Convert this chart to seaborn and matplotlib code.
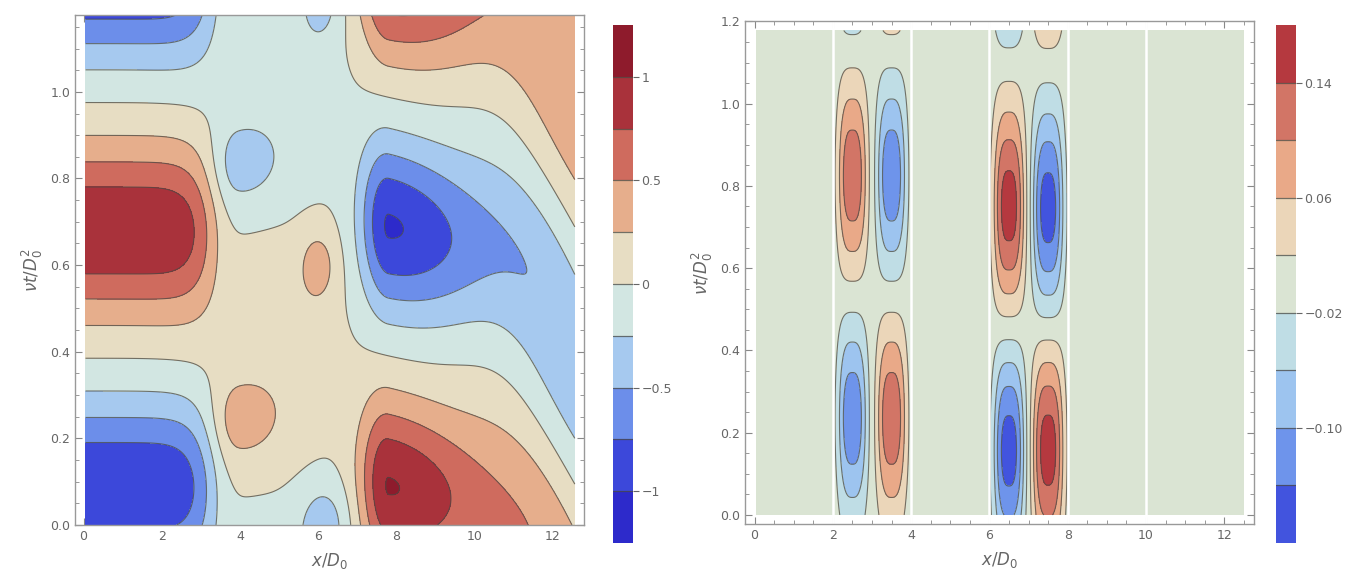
import numpy as np
import matplotlib
matplotlib.use("Agg")
import matplotlib.pyplot as plt
from matplotlib.ticker import MultipleLocator, FormatStrFormatter
import seaborn as sns

# ---- left panel: contour bands and colours ----
left_levels = [-1.25, -1.0, -0.75, -0.5, -0.25, 0.0, 0.25, 0.5, 0.75, 1.0, 1.25]
left_colors = ["#2d2acb", "#3c48da", "#6c8eea", "#a6c9ef", "#d2e6e2",
               "#e7ddc3", "#e6ae8c", "#cf6b5e", "#a9323b", "#8e1b2c"]
left_cb_ticks = [-1.0, -0.5, 0.0, 0.5, 1.0]
left_cb_labels = ["\u22121", "\u22120.5", "0", "0.5", "1"]

# left panel field blobs (centre x, centre t, amplitude, widths, tilt)
lb_x0   = [0.0, 0.0, 0.0,    5.2, 5.2, 5.2,    3.95, 3.95, 6.0, 6.15, 6.05,   7.8, 7.8, 7.8,    12.6, 12.6, 12.6]
lb_t0   = [0.09, 0.68, 1.272, 0.40, 0.98, -0.17, 0.24, 0.83, 0.60, 0.0, 1.21,  0.09, 0.69, 1.28,  -0.225, 0.365, 0.955]
lb_amp  = [-0.98, 0.98, -1.0, 0.16, -0.16, -0.16, 0.33, -0.33, 0.34, -0.38, -0.36, 1.01, -1.02, 0.97, 0.46, -0.46, 0.44]
lb_sxl  = [1.0, 1.0, 1.0,    1.8, 1.8, 1.8,    0.65, 0.65, 0.48, 0.65, 0.5,   0.74, 0.74, 0.74,  2.0, 2.0, 2.0]
lb_sxr  = [3.3, 3.3, 3.3,    1.2, 1.2, 1.2,    1.05, 1.05, 0.48, 0.65, 0.5,   2.8, 2.8, 2.8,     3.0, 3.0, 3.0]
lb_px   = [8.5, 8.5, 8.5,    2, 2, 2,          2, 2, 2, 2, 2,                 2, 2, 2,           2, 2, 2]
lb_st   = [0.195, 0.195, 0.195, 0.25, 0.22, 0.2, 0.095, 0.095, 0.085, 0.1, 0.09, 0.2, 0.2, 0.2, 0.27, 0.27, 0.27]
lb_tilt = [0, 0, 0,          0, 0, 0,          0, 0, 0, 0, 0,                 0.02, 0.02, 0.02,  0.15, 0.15, 0.15]

# ---- right panel: contour bands and colours ----
right_levels = [-0.18, -0.14, -0.10, -0.06, -0.02, 0.02, 0.06, 0.10, 0.14, 0.18]
right_colors = ["#4254de", "#6e94eb", "#9dc4ef", "#bfdde5", "#dae4d3",
                "#ebd6b9", "#e9a988", "#d27566", "#b5393f"]
right_cb_ticks = [-0.10, -0.02, 0.06, 0.14]
right_cb_labels = ["\u22120.10", "\u22120.02", "0.06", "0.14"]

rb_x0  = [2.5, 3.5, 2.5, 3.5, 2.5, 3.5,       6.5, 7.5, 6.5, 7.5, 6.5, 7.5]
rb_t0  = [0.236, 0.236, 0.825, 0.825, 1.43, 1.43, 0.158, 0.16, 0.75, 0.745, 1.44, 1.44]
rb_amp = [-0.13, 0.13, 0.13, -0.13, -0.13, 0.13, -0.16, 0.16, 0.16, -0.16, -0.16, 0.16]
rb_sx  = [0.36] * 6 + [0.38] * 6
rb_st  = [0.22] * 6 + [0.24] * 6
segment_gaps = [2, 4, 6, 8, 10]

x_end = 4 * np.pi
t_end = 1.178


def blob_field(x, t, x0, t0, amp, sxl, sxr, px, st, tilt):
    X, T = np.meshgrid(x, t)
    Z = np.zeros_like(X)
    for i in range(len(amp)):
        d = X - x0[i]
        s = np.where(d < 0, sxl[i], sxr[i])
        fx = np.exp(-(np.abs(d) / s) ** px[i])
        tt = T - t0[i] + tilt[i] * d
        Z += amp[i] * fx * np.exp(-(tt / st[i]) ** 2)
    return X, T, Z


sns.set_style("ticks")
plt.rcParams["font.family"] = ["DejaVu Sans"]
plt.rcParams["mathtext.fontset"] = "dejavusans"
plt.rcParams["contour.negative_linestyle"] = "solid"

fig = plt.figure(figsize=(13.53, 5.79), dpi=100)
ax1 = fig.add_axes([0.0554, 0.0933, 0.3762, 0.8812])
cax1 = fig.add_axes([0.4531, 0.0622, 0.0148, 0.8946])
ax2 = fig.add_axes([0.5506, 0.095, 0.3762, 0.868])
cax2 = fig.add_axes([0.9431, 0.0622, 0.0148, 0.8946])

line_col = "#4a4a44"
grey = "#666666"

# left panel
x = np.linspace(0.05, x_end, 700)
t = np.linspace(0, t_end, 500)
X, T, Z = blob_field(x, t, lb_x0, lb_t0, lb_amp, lb_sxl, lb_sxr, lb_px, lb_st, lb_tilt)
Z = np.clip(Z, -1.249, 1.249)
ax1.contourf(X, T, Z, levels=left_levels, colors=sns.color_palette(left_colors))
ax1.contour(X, T, Z, levels=left_levels[1:-1], colors=line_col, linewidths=0.8,
            alpha=0.75, linestyles="solid")
ax1.set_xlim(-0.22, 12.8)
ax1.set_ylim(0, t_end)
ax1.set_yticks([0, 0.2, 0.4, 0.6, 0.8, 1.0])

# right panel
x2 = np.linspace(0.06, 12.5, 800)
t2 = np.linspace(0, t_end, 500)
n = len(rb_amp)
X2, T2, Z2 = blob_field(x2, t2, rb_x0, rb_t0, rb_amp, rb_sx, rb_sx, [3] * n, rb_st, [0] * n)
Z2 = np.clip(Z2, -0.1799, 0.1799)
ax2.contourf(X2, T2, Z2, levels=right_levels, colors=sns.color_palette(right_colors))
ax2.contour(X2, T2, Z2, levels=right_levels[1:-1], colors=line_col, linewidths=0.8,
            alpha=0.75, linestyles="solid")
for g in segment_gaps:
    ax2.axvline(g, color="white", lw=1.8)
ax2.set_xlim(-0.245, 12.76)
ax2.set_ylim(-0.022, 1.2)
ax2.set_yticks([0, 0.2, 0.4, 0.6, 0.8, 1.0, 1.2])

for ax in (ax1, ax2):
    ax.set_facecolor("white")
    ax.xaxis.set_major_locator(MultipleLocator(2))
    ax.xaxis.set_minor_locator(MultipleLocator(0.5))
    ax.yaxis.set_minor_locator(MultipleLocator(0.05))
    ax.yaxis.set_major_formatter(FormatStrFormatter("%.1f"))
    for sp in ax.spines.values():
        sp.set_color("#999999")
        sp.set_linewidth(1.0)
    ax.tick_params(which="both", direction="in", top=True, right=True,
                   color="#888888", labelcolor=grey, labelsize=9)
    ax.tick_params(which="major", length=5)
    ax.tick_params(which="minor", length=3)
    ax.set_xlabel(r"$x/D_0$", color=grey, fontsize=12, labelpad=6)
    ax.set_ylabel(r"$\nu t/D_0^2$", color=grey, fontsize=12, labelpad=4)

# colour bars drawn as discrete bands
for cax, levels, colors, ticks, labels in (
        (cax1, left_levels, left_colors, left_cb_ticks, left_cb_labels),
        (cax2, right_levels, right_colors, right_cb_ticks, right_cb_labels)):
    for lo, hi, c in zip(levels[:-1], levels[1:], colors):
        cax.axhspan(lo, hi, color=c, lw=0)
    for lv in levels[1:-1]:
        cax.axhline(lv, color=line_col, lw=0.9, alpha=0.75)
    cax.set_ylim(levels[0], levels[-1])
    cax.set_xlim(0, 1)
    cax.set_xticks([])
    cax.yaxis.tick_right()
    cax.set_yticks(ticks)
    cax.set_yticklabels(labels)
    cax.tick_params(axis="y", length=4, color="#666666", labelcolor=grey, labelsize=9, pad=2)
    for sp in cax.spines.values():
        sp.set_visible(False)

fig.savefig("out.png", dpi=100)
